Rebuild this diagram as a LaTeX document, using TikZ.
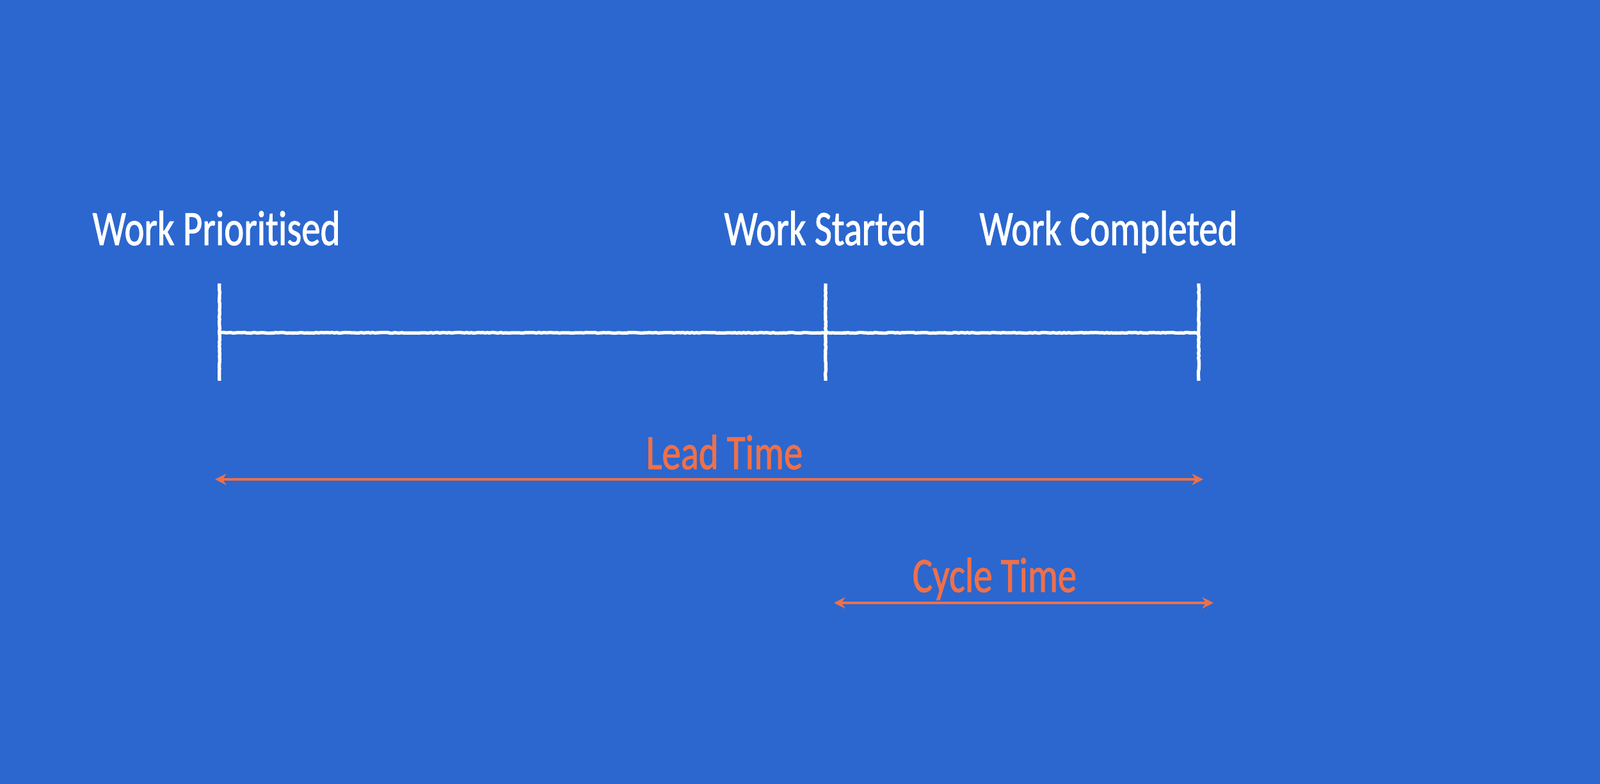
\documentclass[tikz,border=0pt]{standalone}
\usepackage{fontspec}
\setmainfont{Carlito}[FakeStretch=0.76, FakeBold=1.2, Ligatures={NoCommon}]
\usetikzlibrary{arrows.meta,decorations.pathmorphing}
\definecolor{bgblue}{RGB}{43,103,207}
\definecolor{timeorange}{RGB}{238,112,74}

\begin{document}
\begin{tikzpicture}[
    chalk/.style={draw=white, line width=1.5pt, decorate,
      decoration={random steps, segment length=1pt, amplitude=0.15pt}},
    evt/.style={text=white, font=\fontsize{22}{26}\selectfont, anchor=base, inner sep=0pt},
    span/.style={draw=timeorange, line width=0.9pt,
      {Stealth[length=5pt,width=5pt]}-{Stealth[length=5pt,width=5pt]}},
    spanlbl/.style={text=timeorange, font=\fontsize{22}{26}\selectfont, anchor=base, inner sep=0pt}
  ]
    \fill[bgblue] (0,0) rectangle (25,12.25);
    \useasboundingbox (0,0) rectangle (25,12.25);

    % timeline ticks
    \coordinate (pt) at (3.43,7.82);  \coordinate (pb) at (3.43,6.30);
    \coordinate (st) at (12.90,7.82); \coordinate (sb) at (12.90,6.30);
    \coordinate (ct) at (18.73,7.82); \coordinate (cb) at (18.73,6.30);
    \coordinate (p) at (3.43,7.05);
    \coordinate (s) at (12.90,7.05);
    \coordinate (c) at (18.73,7.05);

    \draw[chalk] (pt) -- (pb);
    \draw[chalk] (st) -- (sb);
    \draw[chalk] (ct) -- (cb);
    \draw[chalk] (p) -- (s) -- (c);

    \node[evt] (prio) at (3.38,8.42) {Work Prioritised};
    \node[evt] (start) at (12.89,8.42) {Work Started};
    \node[evt] (done) at (17.32,8.42) {Work Completed};

    % spans
    \coordinate (la) at (3.36,4.76);  \coordinate (lb) at (18.80,4.76);
    \coordinate (ca) at (13.03,2.83); \coordinate (cz) at (18.96,2.83);
    \draw[span] (la) -- (lb);
    \draw[span] (ca) -- (cz);

    \node[spanlbl] (lead) at (11.32,4.92) {Lead Time};
    \node[spanlbl] (cycle) at (15.54,3.00) {Cycle Time};
  \end{tikzpicture}
\end{document}
